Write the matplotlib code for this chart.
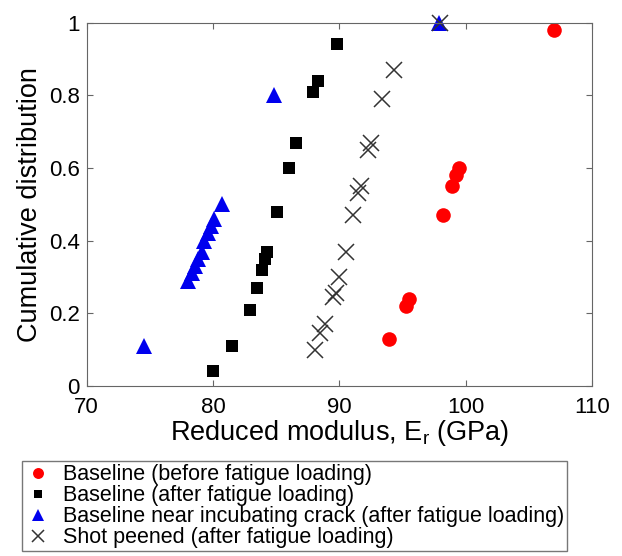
import numpy as np
import matplotlib
matplotlib.use('Agg')
import matplotlib.pyplot as plt

plt.rcParams['font.family'] = ['Liberation Sans', 'DejaVu Sans']

# red circles: baseline before fatigue loading
before_x = [93.9, 95.3, 95.5, 98.2, 98.9, 99.2, 99.5, 107.0]
before_y = [0.13, 0.22, 0.24, 0.47, 0.55, 0.58, 0.60, 0.98]

# black squares: baseline after fatigue loading
after_x = [80.0, 81.5, 82.9, 83.5, 83.85, 84.1, 84.3, 85.1, 86.0, 86.6, 87.9, 88.3, 89.8]
after_y = [0.04, 0.11, 0.21, 0.27, 0.32, 0.35, 0.37, 0.48, 0.60, 0.67, 0.81, 0.84, 0.94]

# blue triangles: near incubating crack
crack_x = [74.5, 78.0, 78.3, 78.6, 78.8, 79.1, 79.3, 79.6, 79.8, 80.1, 80.7, 84.8, 97.9]
crack_y = [0.11, 0.29, 0.31, 0.33, 0.35, 0.37, 0.40, 0.42, 0.44, 0.46, 0.50, 0.80, 1.0]

# crosses: shot peened
peened_x = [88.1, 88.5, 88.9, 89.5, 89.7, 90.0, 90.5, 91.1, 91.5, 91.7, 92.3, 92.5, 93.4, 94.3, 98.0]
peened_y = [0.10, 0.145, 0.17, 0.245, 0.255, 0.30, 0.37, 0.47, 0.53, 0.55, 0.65, 0.67, 0.79, 0.87, 1.0]

labels = ['Baseline (before fatigue loading)',
          'Baseline (after fatigue loading)',
          'Baseline near incubating crack (after fatigue loading)',
          'Shot peened (after fatigue loading)']

fig = plt.figure(figsize=(6.22, 5.56), dpi=100)
ax = fig.add_axes([0.1394, 0.3058, 0.8124, 0.6534])

ax.plot(before_x, before_y, 'o', color='#ff0000', markersize=10.5, markeredgewidth=0, label=labels[0], clip_on=False)
ax.plot(after_x, after_y, 's', color='black', markersize=8.5, markeredgewidth=0, label=labels[1], clip_on=False)
ax.plot(crack_x, crack_y, '^', color='#0000ee', markersize=11, markeredgewidth=0, label=labels[2], clip_on=False)
ax.plot(peened_x, peened_y, 'x', color='#333333', markersize=11.5, markeredgewidth=1.1, label=labels[3], clip_on=False)

ax.set_xlim(70, 110)
ax.set_ylim(0, 1)
ax.set_xticks([70, 80, 90, 100, 110])
ax.set_yticks([0, 0.2, 0.4, 0.6, 0.8, 1])
ax.set_yticklabels(['0', '0.2', '0.4', '0.6', '0.8', '1'])
ax.tick_params(direction='in', top=True, right=True, labelsize=16, length=4, color='#666666')
ax.tick_params(axis='x', pad=8)
ax.tick_params(axis='y', pad=5)
for s in ax.spines.values():
    s.set_color('#666666')

ax.set_xlabel('Reduced modulus, E$_\\mathregular{r}$ (GPa)', fontsize=19.5, labelpad=0)
ax.set_ylabel('Cumulative distribution', fontsize=19.5, labelpad=4)

leg = fig.legend(loc='upper left', bbox_to_anchor=(22 / 622, 1 - 461 / 556), fontsize=15.5,
                 frameon=True, fancybox=False, edgecolor='#555555', borderaxespad=0,
                 labelspacing=0.0, handletextpad=0.55, handlelength=1.2, borderpad=0.15,
                 markerscale=0.75)
leg.get_frame().set_linewidth(1.0)

fig.savefig('out.png', dpi=100)
